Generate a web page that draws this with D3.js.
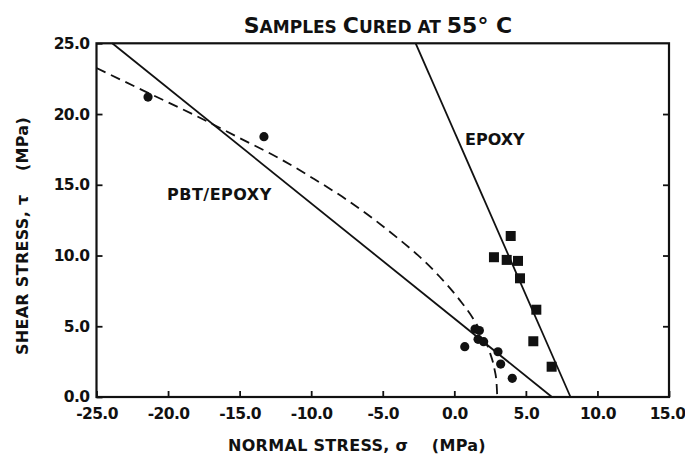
<!DOCTYPE html>
<html>
<head>
<meta charset="utf-8">
<script src="https://cdn.jsdelivr.net/npm/d3@7"></script>
<style>
  html, body { margin: 0; padding: 0; background: #fff; }
  svg text { font-family: "DejaVu Sans", "Liberation Sans", sans-serif; font-weight: bold; fill: #111; }
</style>
</head>
<body>
<svg id="chart" width="685" height="459"></svg>
<script>
// ---- data ----
const xTickValues = [-25, -20, -15, -10, -5, 0, 5, 10, 15];
const xTickLabels = ["-25.0", "-20.0", "-15.0", "-10.0", "-5.0", "0.0", "5.0", "10.0", "15.0"];
const yTickValues = [0, 5, 10, 15, 20, 25];
const yTickLabels = ["0.0", "5.0", "10.0", "15.0", "20.0", "25.0"];

// EPOXY specimens (squares): [normal stress, shear stress]
const epoxyPoints = [[3.94, 11.38], [2.77, 9.88], [3.66, 9.69], [4.45, 9.62], [4.59, 8.39], [5.73, 6.17], [5.52, 3.94], [6.80, 2.14]];
// PBT/EPOXY specimens (circles)
const pbtPoints = [[-21.4, 21.2], [-13.3, 18.4], [1.45, 4.8], [1.75, 4.7], [1.66, 4.08], [2.05, 3.91], [0.73, 3.56], [3.05, 3.2], [3.24, 2.33], [4.05, 1.32]];
// straight failure lines (end points)
const pbtLine = [[-23.9, 25], [6.82, 0]];
const epoxyLine = [[-2.7, 25], [8.12, 0]];
// dashed envelope curve
const envelopeCurve = [[-25, 23.25], [-21.4, 21.5], [-18.1, 19.9], [-15, 18.3], [-12.2, 16.85], [-9.86, 15.45], [-7.53, 13.95], [-5.67, 12.6], [-4.04, 11.3], [-2.41, 9.9], [-1.02, 8.5], [0.38, 6.85], [1.31, 5.55], [2.0, 4.3], [2.5, 3.1], [2.8, 2.0], [2.95, 1.0], [3.0, 0]];

// ---- layout ----
const svg = d3.select("#chart");
const pLeft = 96.5, pRight = 669, pTop = 43.3, pBottom = 397;
const x = d3.scaleLinear().domain([-25, 15]).range([pLeft, pRight]);
const y = d3.scaleLinear().domain([0, 25]).range([pBottom, pTop]);

const plot = svg.append("g");

// lines
const line = d3.line().x(d => x(d[0])).y(d => y(d[1]));
plot.append("path").datum(pbtLine).attr("d", line)
  .attr("fill", "none").attr("stroke", "#111").attr("stroke-width", 1.8);
plot.append("path").datum(epoxyLine).attr("d", line)
  .attr("fill", "none").attr("stroke", "#111").attr("stroke-width", 1.8);
plot.append("path").datum(envelopeCurve)
  .attr("d", d3.line().x(d => x(d[0])).y(d => y(d[1])).curve(d3.curveMonotoneX))
  .attr("fill", "none").attr("stroke", "#111").attr("stroke-width", 1.8)
  .attr("stroke-dasharray", "10,6");

// points
plot.selectAll("circle.pbt").data(pbtPoints).enter().append("circle")
  .attr("class", "pbt")
  .attr("cx", d => x(d[0])).attr("cy", d => y(d[1])).attr("r", 4.6).attr("fill", "#111");
const sq = 10;
plot.selectAll("rect.epoxy").data(epoxyPoints).enter().append("rect")
  .attr("class", "epoxy")
  .attr("x", d => x(d[0]) - sq / 2).attr("y", d => y(d[1]) - sq / 2)
  .attr("width", sq).attr("height", sq).attr("fill", "#111");

// axes (ticks inward)
const xAxis = d3.axisBottom(x).tickValues(xTickValues).tickSize(-6).tickPadding(8)
  .tickFormat((d, i) => xTickLabels[i]);
const gx = svg.append("g").attr("transform", `translate(0,${pBottom})`).call(xAxis);
const yAxis = d3.axisLeft(y).tickValues(yTickValues).tickSize(-6).tickPadding(7)
  .tickFormat((d, i) => yTickLabels[i]);
const gy = svg.append("g").attr("transform", `translate(${pLeft},0)`).call(yAxis);
const yAxisR = d3.axisRight(y).tickValues(yTickValues.slice(1, 5)).tickSize(-6).tickFormat("");
const gyr = svg.append("g").attr("transform", `translate(${pRight},0)`).call(yAxisR);
[gx, gy, gyr].forEach(g => {
  g.select(".domain").remove();
  g.selectAll(".tick line").attr("stroke", "#111").attr("stroke-width", 1.8);
  g.selectAll(".tick text").style("font-size", "15.5px").attr("fill", "#111").style("letter-spacing", "-0.6px");
});
gx.selectAll(".tick text").attr("dy", "0.9em");
gx.selectAll(".tick").filter(d => d === 15).select("text").attr("text-anchor", "end").attr("x", 16);

// frame
svg.append("rect").attr("x", pLeft).attr("y", pTop)
  .attr("width", pRight - pLeft).attr("height", pBottom - pTop)
  .attr("fill", "none").attr("stroke", "#111").attr("stroke-width", 2.2);

// title (small caps style)
const title = svg.append("text").attr("x", 378).attr("y", 33).attr("text-anchor", "middle");
const parts = [["S", 22], ["AMPLES ", 17], ["C", 22], ["URED ", 17], ["AT ", 17], ["55° C", 22]];
parts.forEach(p => title.append("tspan").text(p[0]).style("font-size", p[1] + "px"));

// series labels
svg.append("text").attr("x", 465).attr("y", 145).style("font-size", "16px").text("EPOXY");
svg.append("text").attr("x", 167).attr("y", 200).style("font-size", "16px").style("letter-spacing", "0.5px").text("PBT/EPOXY");

// axis titles
svg.append("text").attr("x", 357).attr("y", 451).attr("text-anchor", "middle")
  .style("font-size", "16px").style("letter-spacing", "0.3px").attr("xml:space", "preserve").text("NORMAL STRESS, σ    (MPa)");
svg.append("text").attr("transform", "translate(28,236) rotate(-90)").attr("text-anchor", "middle")
  .style("font-size", "16px").style("letter-spacing", "0.3px").attr("xml:space", "preserve").text("SHEAR STRESS, τ    (MPa)");
</script>
</body>
</html>
